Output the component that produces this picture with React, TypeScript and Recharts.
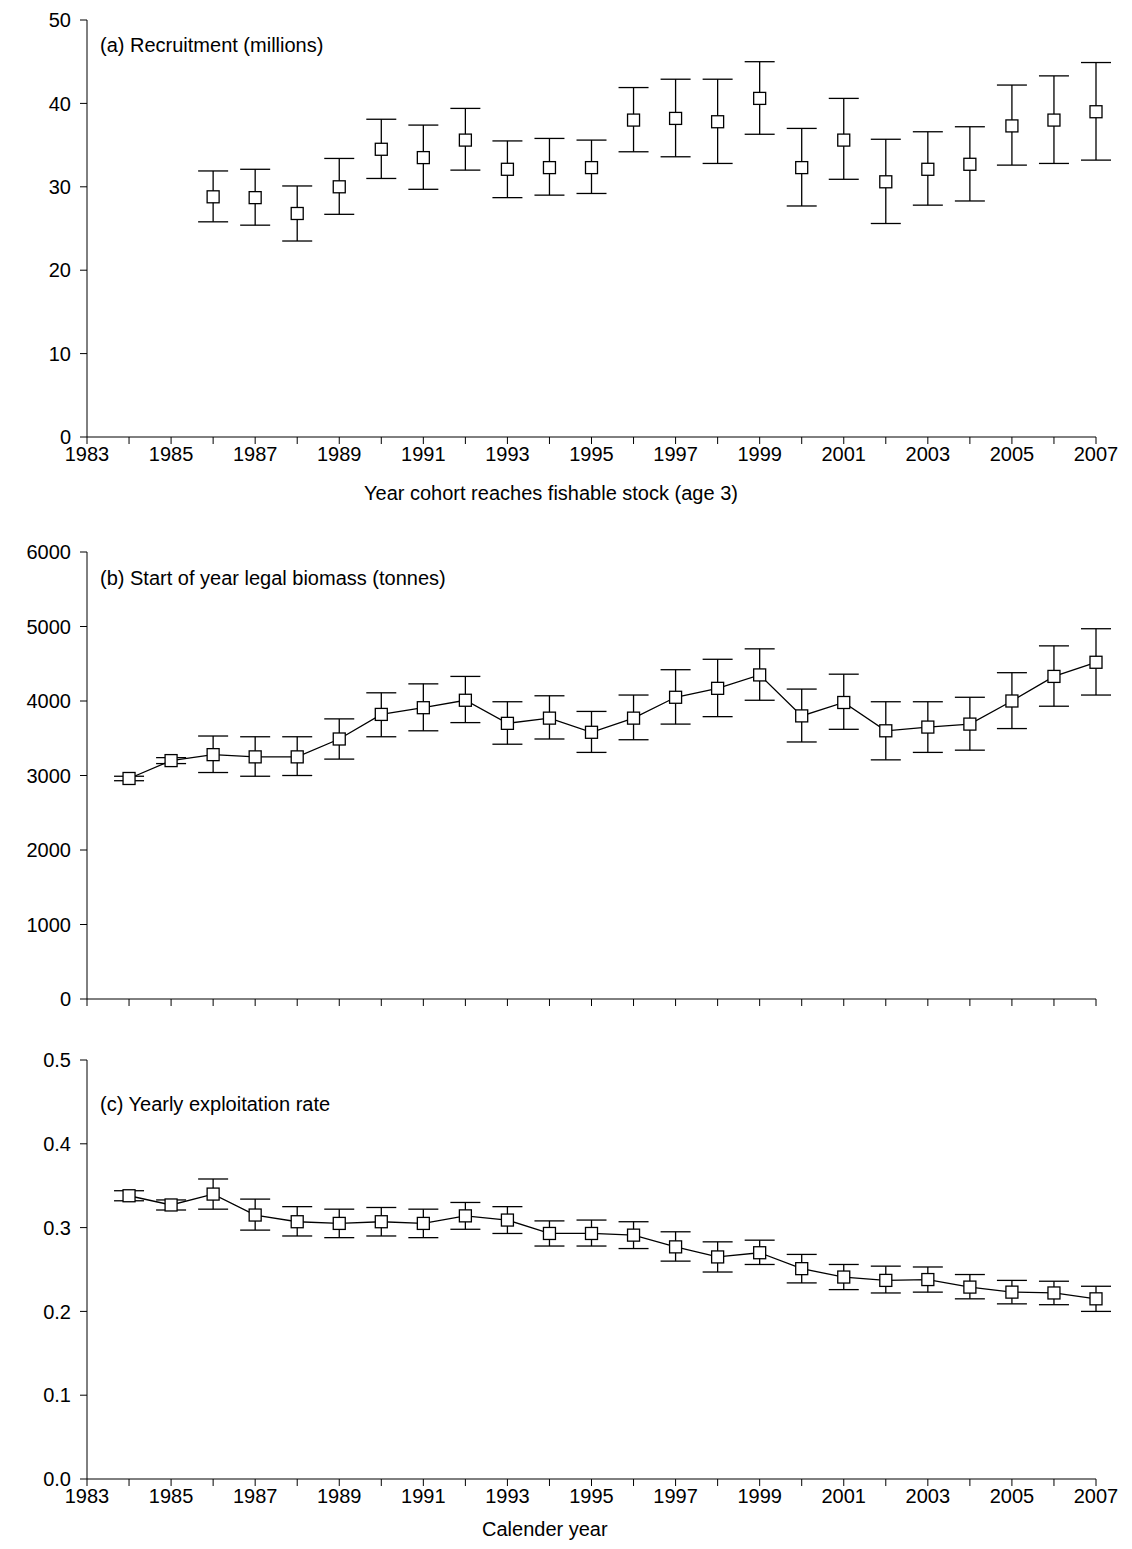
import { ComposedChart, Line, XAxis, YAxis, ErrorBar } from 'recharts'

const recYears = [1986, 1987, 1988, 1989, 1990, 1991, 1992, 1993, 1994, 1995, 1996, 1997, 1998, 1999, 2000, 2001, 2002, 2003, 2004, 2005, 2006, 2007]
const recruit = [28.8, 28.7, 26.8, 30.0, 34.5, 33.5, 35.6, 32.1, 32.3, 32.3, 38.0, 38.2, 37.8, 40.6, 32.3, 35.6, 30.6, 32.1, 32.7, 37.3, 38.0, 39.0]
const recruitLo = [25.8, 25.4, 23.5, 26.7, 31.0, 29.7, 32.0, 28.7, 29.0, 29.2, 34.2, 33.6, 32.8, 36.3, 27.7, 30.9, 25.6, 27.8, 28.3, 32.6, 32.8, 33.2]
const recruitHi = [31.9, 32.1, 30.1, 33.4, 38.1, 37.4, 39.4, 35.5, 35.8, 35.6, 41.9, 42.9, 42.9, 45.0, 37.0, 40.6, 35.7, 36.6, 37.2, 42.2, 43.3, 44.9]

const calYears = [1984, 1985, 1986, 1987, 1988, 1989, 1990, 1991, 1992, 1993, 1994, 1995, 1996, 1997, 1998, 1999, 2000, 2001, 2002, 2003, 2004, 2005, 2006, 2007]
const biomass = [2960, 3200, 3280, 3250, 3250, 3490, 3820, 3910, 4010, 3700, 3770, 3580, 3770, 4050, 4170, 4350, 3800, 3980, 3600, 3650, 3690, 4000, 4330, 4520]
const biomassLo = [2930, 3160, 3040, 2990, 3000, 3220, 3520, 3600, 3710, 3420, 3490, 3310, 3480, 3690, 3790, 4010, 3450, 3620, 3210, 3310, 3340, 3630, 3930, 4080]
const biomassHi = [2990, 3240, 3530, 3520, 3520, 3760, 4110, 4230, 4330, 3990, 4070, 3860, 4080, 4420, 4560, 4700, 4160, 4360, 3990, 3990, 4050, 4380, 4740, 4970]

const exploit = [0.338, 0.327, 0.340, 0.315, 0.307, 0.305, 0.307, 0.305, 0.314, 0.309, 0.293, 0.293, 0.291, 0.277, 0.265, 0.270, 0.251, 0.241, 0.237, 0.238, 0.229, 0.223, 0.222, 0.215]
const exploitLo = [0.332, 0.321, 0.322, 0.297, 0.290, 0.288, 0.290, 0.288, 0.298, 0.293, 0.278, 0.278, 0.275, 0.260, 0.247, 0.256, 0.234, 0.226, 0.222, 0.223, 0.215, 0.209, 0.208, 0.200]
const exploitHi = [0.344, 0.333, 0.358, 0.334, 0.325, 0.322, 0.324, 0.322, 0.330, 0.325, 0.308, 0.309, 0.307, 0.295, 0.283, 0.285, 0.268, 0.256, 0.254, 0.253, 0.244, 0.237, 0.236, 0.230]

const allYears = Array.from({ length: 25 }, (_, i) => 1983 + i)

const build = (years: number[], v: number[], lo: number[], hi: number[]) =>
  years.map((year, i) => ({ year, v: v[i], err: [v[i] - lo[i], hi[i] - v[i]] }))

const font = { fontFamily: 'Liberation Sans, Arial, sans-serif', fontSize: 20, fill: '#000' }

const Square = (p: any) => (
  <rect key={p.index} x={p.cx - 6} y={p.cy - 6} width={12} height={12} fill="#fff" stroke="#000" strokeWidth={1.3} />
)

function Panel({ data, height, domain, ticks, fmt, showX, line, margin }: any) {
  return (
    <ComposedChart width={1132} height={height} data={data} margin={margin}>
      <XAxis
        dataKey="year"
        type="number"
        domain={[1983, 2007]}
        ticks={allYears}
        interval={0}
        tickFormatter={(t: number) => (showX && t % 2 === 1 ? String(t) : '')}
        tick={font}
        tickSize={7}
        tickMargin={3}
        stroke="#000"
        height={showX ? 32 : 13}
      />
      <YAxis
        domain={domain}
        ticks={ticks}
        tickFormatter={fmt}
        tick={font}
        tickSize={7}
        tickMargin={9}
        stroke="#000"
        width={87}
        allowDataOverflow
      />
      <Line
        dataKey="v"
        stroke={line ? '#000' : 'none'}
        strokeWidth={1.3}
        dot={Square}
        activeDot={false}
        isAnimationActive={false}
      >
        <ErrorBar dataKey="err" width={15} stroke="#000" strokeWidth={1.3} direction="y" />
      </Line>
    </ComposedChart>
  )
}

const label = (top: number, left: number, text: string) => (
  <div style={{ position: 'absolute', top, left, fontFamily: 'Liberation Sans, Arial, sans-serif', fontSize: 20 }}>{text}</div>
)

export default function App() {
  return (
    <div style={{ position: 'absolute', top: 0, left: 0, width: 1132, height: 1549, background: '#fff' }}>
      <div style={{ position: 'absolute', top: 0, left: 0 }}>
        <Panel
          data={build(recYears, recruit, recruitLo, recruitHi)}
          height={480}
          domain={[0, 50]}
          ticks={[0, 10, 20, 30, 40, 50]}
          fmt={(t: number) => String(t)}
          showX
          line={false}
          margin={{ top: 20, right: 36, left: 0, bottom: 11 }}
        />
      </div>
      <div style={{ position: 'absolute', top: 532, left: 0 }}>
        <Panel
          data={build(calYears, biomass, biomassLo, biomassHi)}
          height={480}
          domain={[0, 6000]}
          ticks={[0, 1000, 2000, 3000, 4000, 5000, 6000]}
          fmt={(t: number) => String(t)}
          showX={false}
          line
          margin={{ top: 20, right: 36, left: 0, bottom: 0 }}
        />
      </div>
      <div style={{ position: 'absolute', top: 1040, left: 0 }}>
        <Panel
          data={build(calYears, exploit, exploitLo, exploitHi)}
          height={471}
          domain={[0, 0.5]}
          ticks={[0, 0.1, 0.2, 0.3, 0.4, 0.5]}
          fmt={(t: number) => t.toFixed(1)}
          showX
          line
          margin={{ top: 20, right: 36, left: 0, bottom: 0 }}
        />
      </div>
      {label(34, 100, '(a) Recruitment (millions)')}
      {label(482, 364, 'Year cohort reaches fishable stock (age 3)')}
      {label(567, 100, '(b) Start of year legal biomass (tonnes)')}
      {label(1093, 100, '(c) Yearly exploitation rate')}
      {label(1518, 482, 'Calender year')}
    </div>
  )
}
